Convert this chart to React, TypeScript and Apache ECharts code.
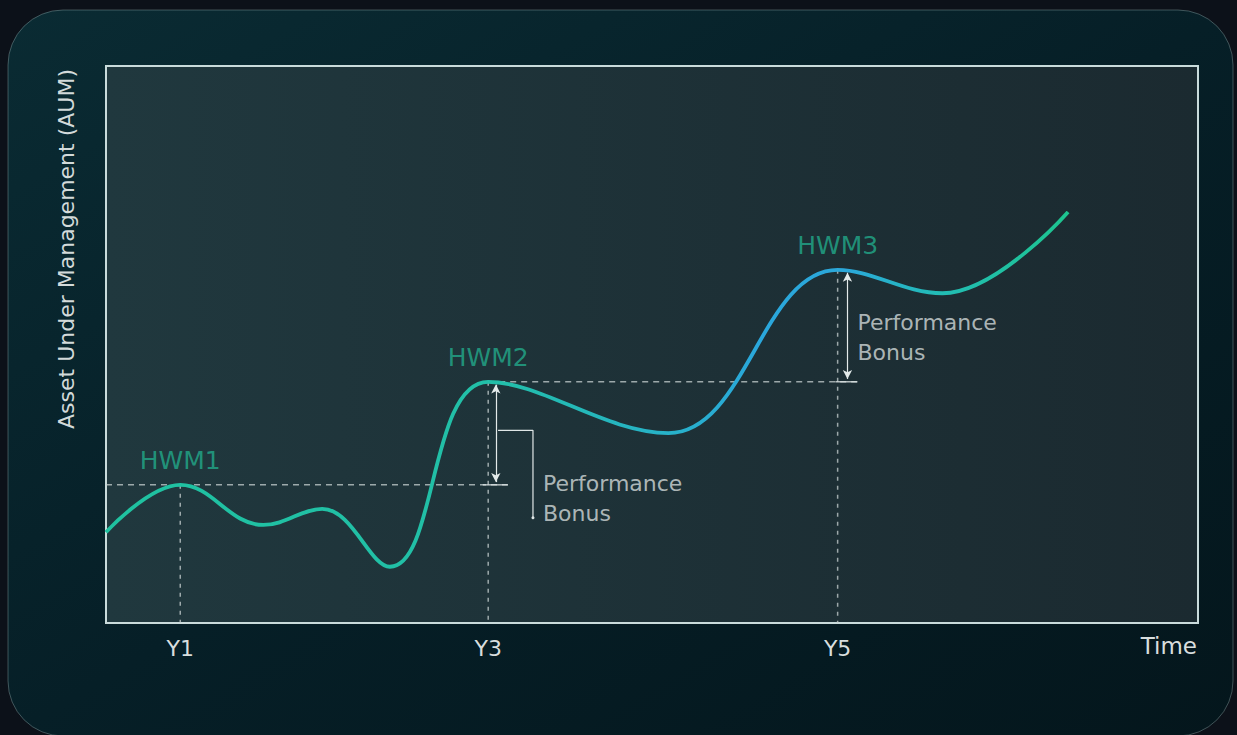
import React, { useEffect, useRef } from "react";
import * as echarts from "echarts";

// Time axis in arbitrary units (0..100 across the plot); AUM axis 0..100
const curveX = [0, 6.8, 14.4, 19.8, 26.0, 35.0, 51.5, 67.0, 76.6, 88.1];
const curveY = [16.3, 24.8, 17.6, 20.5, 10.1, 43.3, 34.1, 63.4, 59.2, 73.8];

const tickValues = [6.8, 35.0, 67.0];
const tickLabels = ["Y1", "Y3", "Y5"];

const hwmNames = ["HWM1", "HWM2", "HWM3"];
const hwmX = [6.8, 35.0, 67.0];
const hwmY = [24.8, 43.3, 63.4];

// horizontal HWM guide lines (start/end along time)
const levelStart = [0, 35.0];
const levelEnd = [36.8, 68.8];

// performance bonus arrows
const arrowX = [35.7, 67.9];
const capStart = [34.5, 66.8];

// bracket pointing to first bonus label
const bracketX = [35.9, 39.1, 39.1];
const bracketY = [34.6, 34.6, 18.9];

const bonusText = "Performance\nBonus";
const bonusLabelX = [39.1, 67.9];
const bonusLabelY = [22.4, 51.3];

const FONT = '"DejaVu Sans", sans-serif';

export default function App() {
  const ref = useRef<HTMLDivElement>(null);
  useEffect(() => {
    if (!ref.current) return;
    const chart = echarts.init(ref.current, null, { renderer: "svg" });

    const curveData: any[] = curveX.map((x, i) => [x, curveY[i]]);
    const last = curveData.length - 1;
    curveData[last] = {
      value: curveData[last],
      label: {
        show: true,
        position: "top",
        distance: 20,
        offset: [-2, 0],
        formatter: "Portfolio\nPerformance",
        color: "#d8dede",
        fontSize: 21,
        lineHeight: 29,
        fontFamily: FONT,
        align: "center",
      },
    };

    const dash = { color: "rgba(200,210,210,0.75)", width: 1.5, type: [6, 5] as any };
    const vdash = { color: "rgba(200,210,210,0.75)", width: 1.5, type: [4, 5] as any };

    const guideSeries: any[] = [];
    levelStart.forEach((s, i) => {
      guideSeries.push({
        type: "line",
        data: [[s, hwmY[i]], [levelEnd[i], hwmY[i]]],
        symbol: "none",
        lineStyle: dash,
        silent: true,
        z: 2,
      });
      guideSeries.push({
        type: "line",
        data: [[capStart[i], hwmY[i]], [levelEnd[i], hwmY[i]]],
        symbol: "none",
        lineStyle: { color: "#dfe6e6", width: 1.2 },
        silent: true,
        z: 3,
      });
    });
    hwmX.forEach((x, i) => {
      guideSeries.push({
        type: "line",
        data: [[x, hwmY[i]], [x, 0]],
        symbol: "none",
        lineStyle: vdash,
        silent: true,
        z: 2,
      });
    });

    const bracketData: any[] = bracketX.map((x, i) => [x, bracketY[i]]);
    bracketData[bracketData.length - 1] = {
      value: bracketData[bracketData.length - 1],
      symbol: "circle",
      symbolSize: 3,
    };

    const option: any = {
      animation: false,
      backgroundColor: "#0c1119",
      graphic: [
        {
          type: "rect",
          z: -100,
          silent: true,
          shape: { x: 8, y: 10, width: 1225, height: 726, r: 55 },
          style: {
            fill: new echarts.graphic.LinearGradient(0, 0, 1, 1, [
              { offset: 0, color: "#0a2b33" },
              { offset: 0.5, color: "#061f27" },
              { offset: 1, color: "#04161c" },
            ]),
            stroke: "rgba(170,195,195,0.35)",
            lineWidth: 1,
          },
        },
        {
          type: "text",
          x: 66,
          y: 249,
          rotation: Math.PI / 2,
          silent: true,
          style: {
            text: "Asset Under Management (AUM)",
            fill: "#d3dada",
            fontSize: 22,
            fontFamily: FONT,
            align: "center",
            verticalAlign: "middle",
          },
        },
      ],
      grid: {
        left: 106,
        right: 39,
        top: 66,
        bottom: 112,
        show: true,
        backgroundColor: new echarts.graphic.LinearGradient(0, 0, 1, 0, [
          { offset: 0, color: "#20383e" },
          { offset: 1, color: "#1b2a30" },
        ]),
        borderColor: "#c9dbdb",
        borderWidth: 2,
      },
      xAxis: {
        type: "value",
        min: 0,
        max: 100,
        name: "Time",
        nameLocation: "end",
        nameGap: -1,
        nameTextStyle: {
          color: "#d8dede",
          fontSize: 23,
          fontFamily: FONT,
          align: "right",
          verticalAlign: "top",
          padding: [11, 0, 0, 0],
        },
        axisLine: { show: false },
        axisTick: { show: false },
        splitLine: { show: false },
        axisLabel: {
          customValues: tickValues,
          formatter: (v: number) => {
            const i = tickValues.findIndex((t) => Math.abs(t - v) < 0.01);
            return i >= 0 ? tickLabels[i] : "";
          },
          color: "#d8dede",
          fontSize: 22,
          fontFamily: FONT,
          margin: 14,
        },
      },
      yAxis: {
        type: "value",
        min: 0,
        max: 100,
        show: false,
      },
      series: [
        ...guideSeries,
        {
          type: "line",
          data: bracketData,
          symbol: "none",
          showSymbol: true,
          lineStyle: { color: "#dfe6e6", width: 1.2 },
          itemStyle: { color: "#dfe6e6" },
          silent: true,
          z: 3,
          markLine: {
            silent: true,
            symbol: ["arrow", "arrow"],
            symbolSize: [7, 9],
            lineStyle: { color: "#e3eaea", width: 1.2, type: "solid" },
            label: { show: false },
            data: arrowX.map((x, i) => [
              { coord: [x, hwmY[i + 1] - 0.5] },
              { coord: [x, hwmY[i] + 0.5] },
            ]),
          },
        },
        {
          type: "line",
          data: curveData,
          smooth: 0.4,
          symbol: "none",
          lineStyle: {
            width: 3.8,
            color: new echarts.graphic.LinearGradient(0, 0, 1, 0, [
              { offset: 0, color: "#1fc2a0" },
              { offset: 0.4, color: "#22bfa8" },
              { offset: 0.58, color: "#27b2c8" },
              { offset: 0.68, color: "#2aa7dc" },
              { offset: 0.77, color: "#2ba8da" },
              { offset: 0.87, color: "#22bdb4" },
              { offset: 1, color: "#1dc48f" },
            ]),
          },
          z: 5,
        },
        {
          type: "scatter",
          data: hwmX.map((x, i) => [x, hwmY[i]]),
          symbolSize: 0,
          silent: true,
          label: {
            show: true,
            position: "top",
            distance: 12,
            formatter: (p: any) => hwmNames[p.dataIndex],
            color: "#22ab8b",
            fontSize: 25,
            fontFamily: FONT,
          },
          z: 6,
        },
        {
          type: "scatter",
          data: bonusLabelX.map((x, i) => [x, bonusLabelY[i]]),
          symbolSize: 0,
          silent: true,
          label: {
            show: true,
            position: "right",
            distance: 10,
            formatter: bonusText,
            color: "#d3dada",
            fontSize: 22,
            lineHeight: 30,
            fontFamily: FONT,
          },
          z: 6,
        },
      ],
    };

    chart.setOption(option);
    return () => chart.dispose();
  }, []);

  return (
    <div
      ref={ref}
      style={{ position: "fixed", left: 0, top: 0, width: 1237, height: 735 }}
    />
  );
}
